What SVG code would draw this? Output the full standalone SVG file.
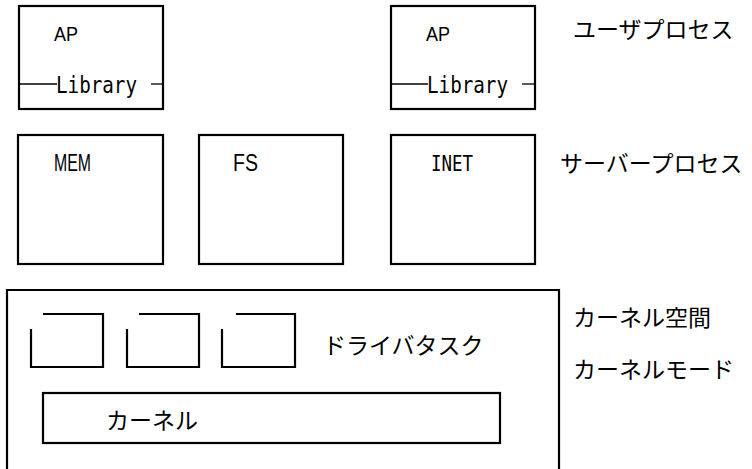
<svg xmlns="http://www.w3.org/2000/svg" width="752" height="469" viewBox="0 0 752 469">
<style>
.box{fill:none;stroke:#000;stroke-width:2.2}
.ln{stroke:#000;stroke-width:1.3;fill:none}
.lat{font-family:"Liberation Sans",Arial,sans-serif;fill:#000}
.mono{font-family:"DejaVu Sans Mono","Liberation Mono",monospace;fill:#000}
.jp{font-family:"Noto Sans CJK JP",sans-serif;font-size:23px;fill:#000}
</style>
<rect width="752" height="469" fill="#fff"/>
<g id="ap1">
<rect class="box" x="19" y="6" width="144" height="103"/>
<text class="lat" x="54" y="41" font-size="21" textLength="24" lengthAdjust="spacingAndGlyphs">AP</text>
<text class="mono" x="56" y="93" font-size="23" textLength="81" lengthAdjust="spacingAndGlyphs">Library</text>
<line class="ln" x1="19" y1="84" x2="57" y2="84"/>
<line class="ln" x1="151" y1="84" x2="163" y2="84"/>
</g>
<g id="ap2">
<rect class="box" x="391" y="6" width="144" height="103"/>
<text class="lat" x="426" y="41" font-size="21" textLength="24" lengthAdjust="spacingAndGlyphs">AP</text>
<text class="mono" x="427" y="93" font-size="23" textLength="81" lengthAdjust="spacingAndGlyphs">Library</text>
<line class="ln" x1="391" y1="84" x2="428" y2="84"/>
<line class="ln" x1="522" y1="84" x2="535" y2="84"/>
</g>
<g id="mem">
<rect class="box" x="18" y="135" width="145" height="129"/>
<text class="lat" x="54" y="171" font-size="23" textLength="37" lengthAdjust="spacingAndGlyphs">MEM</text>
</g>
<g id="fs">
<rect class="box" x="199" y="135" width="144" height="129"/>
<text class="lat" x="233" y="171" font-size="23" textLength="25" lengthAdjust="spacingAndGlyphs">FS</text>
</g>
<g id="inet">
<rect class="box" x="391" y="135" width="144" height="129"/>
<text class="mono" x="431" y="171" font-size="22" textLength="42" lengthAdjust="spacingAndGlyphs">INET</text>
</g>
<g id="labels">
<text class="jp" x="573" y="38">ユーザプロセス</text>
<text class="jp" x="560" y="172">サーバープロセス</text>
<text class="jp" x="573" y="326">カーネル空間</text>
<text class="jp" x="573" y="378">カーネルモード</text>
</g>
<g id="kernelspace">
<path class="box" d="M7,475 V290 H559 V475"/>
</g>
<g id="drv1"><path class="box" d="M43,314 H103 V367 H31 V329"/></g>
<g id="drv2"><path class="box" d="M139,314 H199 V367 H127 V329"/></g>
<g id="drv3"><path class="box" d="M236,314 H295 V367 H222 V329"/></g>
<g id="drvlabel"><text class="jp" x="323" y="354">ドライバタスク</text></g>
<g id="kernel">
<rect class="box" x="43" y="393" width="457" height="50"/>
<text class="jp" x="106" y="429">カーネル</text>
</g>
<g id="connectors"></g>
</svg>
